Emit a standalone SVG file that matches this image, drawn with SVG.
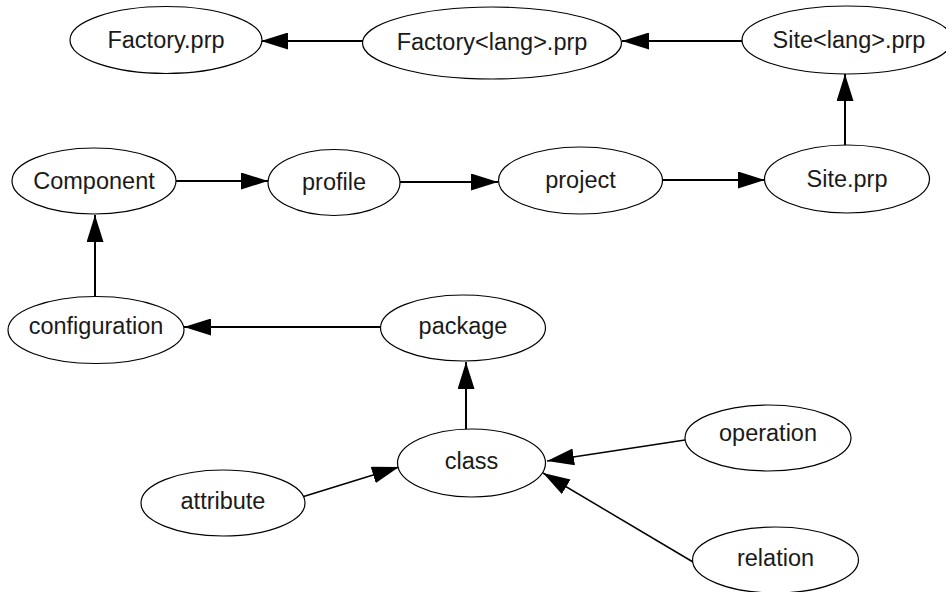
<svg xmlns="http://www.w3.org/2000/svg" width="946" height="592" viewBox="0 0 946 592">
<style>
  .node ellipse { fill: #ffffff; stroke: #000000; stroke-width: 1.2; }
  .node text { font-family: "Liberation Sans", Arial, sans-serif; font-size: 23.5px; fill: #1a1a1a; text-anchor: middle; }
  .edge { stroke: #000000; stroke-width: 2; fill: none; marker-end: url(#arrow); }
  .diag { stroke-width: 1.5; }
</style>
<defs>
  <marker id="arrow" viewBox="0 0 27 17" markerWidth="27" markerHeight="17" refX="27" refY="8.5" orient="auto" markerUnits="userSpaceOnUse">
    <path d="M0,0 L27,8.5 L0,17 z" fill="#000000"/>
  </marker>
</defs>
<rect width="946" height="592" fill="#ffffff"/>
<g id="connectors">
  <line class="edge" x1="363" y1="41" x2="261" y2="41"/>
  <line class="edge" x1="742" y1="41" x2="622" y2="41"/>
  <line class="edge" x1="845" y1="145" x2="845" y2="74"/>
  <line class="edge" x1="176" y1="181" x2="268" y2="181"/>
  <line class="edge" x1="400" y1="182" x2="498" y2="182"/>
  <line class="edge" x1="663" y1="180" x2="765" y2="180"/>
  <line class="edge" x1="95" y1="298" x2="95" y2="215"/>
  <line class="edge" x1="381" y1="327" x2="184" y2="327"/>
  <line class="edge" x1="466" y1="429" x2="466" y2="362"/>
  <line class="edge diag" x1="302" y1="497" x2="399" y2="467"/>
  <line class="edge diag" x1="685" y1="440" x2="547" y2="461"/>
  <line class="edge diag" x1="693" y1="562" x2="543" y2="473"/>
</g>
<g id="factory-prp" class="node"><ellipse cx="166" cy="40" rx="96" ry="33.5"/><text x="166" y="48">Factory.prp</text></g>
<g id="factory-lang-prp" class="node"><ellipse cx="492" cy="43" rx="129.5" ry="36"/><text x="492" y="50">Factory&lt;lang&gt;.prp</text></g>
<g id="site-lang-prp" class="node"><ellipse cx="847" cy="40" rx="105" ry="34"/><text x="849" y="48">Site&lt;lang&gt;.prp</text></g>
<g id="component" class="node"><ellipse cx="94" cy="181" rx="82" ry="33"/><text x="94" y="189">Component</text></g>
<g id="profile" class="node"><ellipse cx="334" cy="182.5" rx="66" ry="33"/><text x="334" y="190">profile</text></g>
<g id="project" class="node"><ellipse cx="580.5" cy="180.5" rx="82" ry="33.5"/><text x="580.5" y="188">project</text></g>
<g id="site-prp" class="node"><ellipse cx="847" cy="179" rx="82.5" ry="34"/><text x="847" y="187">Site.prp</text></g>
<g id="configuration" class="node"><ellipse cx="96" cy="330" rx="88" ry="33.5"/><text x="96" y="334">configuration</text></g>
<g id="package" class="node"><ellipse cx="463" cy="328" rx="82.5" ry="33"/><text x="463" y="334">package</text></g>
<g id="class" class="node"><ellipse cx="471.5" cy="463" rx="74" ry="34"/><text x="471.5" y="469">class</text></g>
<g id="operation" class="node"><ellipse cx="768" cy="438" rx="83" ry="33"/><text x="768" y="441">operation</text></g>
<g id="attribute" class="node"><ellipse cx="223" cy="503" rx="82" ry="33"/><text x="223" y="509">attribute</text></g>
<g id="relation" class="node"><ellipse cx="775.5" cy="560" rx="83" ry="33"/><text x="775.5" y="566">relation</text></g>
</svg>
